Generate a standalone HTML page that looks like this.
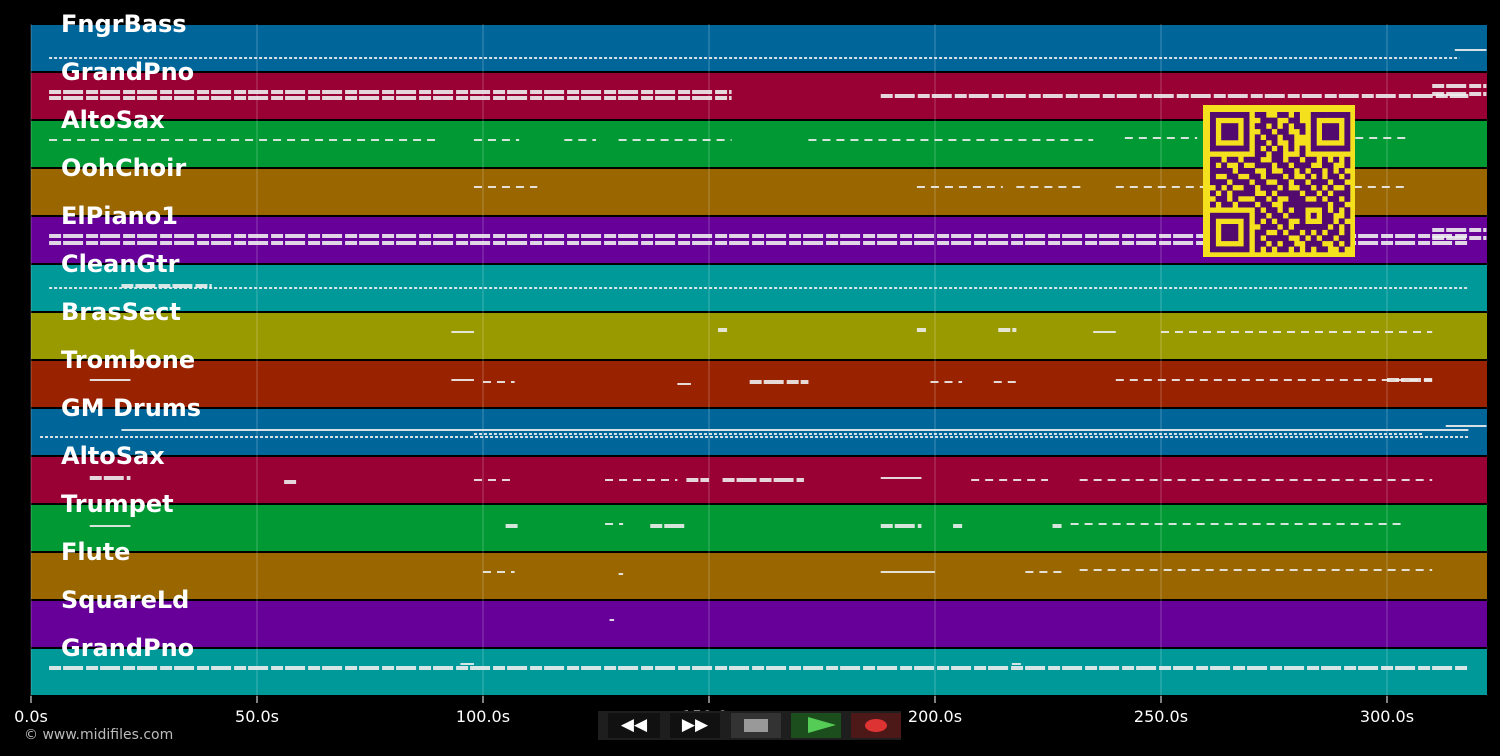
<!DOCTYPE html>
<html><head><meta charset="utf-8"><style>
html,body{margin:0;padding:0;background:#000;width:1500px;height:756px;overflow:hidden}
svg{display:block}
text{font-family:"DejaVu Sans","Liberation Sans",sans-serif}
</style></head><body>
<svg id="c" width="1500" height="756"></svg>
<script>
const instruments=["FngrBass","GrandPno","AltoSax","OohChoir","ElPiano1","CleanGtr","BrasSect","Trombone","GM Drums","AltoSax","Trumpet","Flute","SquareLd","GrandPno"];
const laneColors=["#00669a","#990033","#009933","#996600","#660099","#009999","#999900","#992200","#00669a","#990033","#009933","#996600","#660099","#009999"];
const timeTicks=[0,50,100,150,200,250,300];
// note groups per lane: [startSec,endSec,yOffsetInLane,style]
const noteGroups=[
 [[4,316,34,"dot"],[315,322,26,"solid"]],
 [[4,155,20,"thick"],[4,155,26,"thick"],[188,318,24,"thick"],[310,322,14,"thick"],[310,322,22,"thick"]],
 [[4,90,20,"dash"],[98,108,20,"dash"],[118,125,20,"dash"],[130,155,20,"dash"],[172,235,20,"dash"],[242,258,18,"dash"],[262,305,18,"dash"]],
 [[98,112,19,"dash"],[196,215,19,"dash"],[218,233,19,"dash"],[240,305,19,"dash"]],
 [[4,318,20,"thick"],[4,318,27,"thick"],[310,322,14,"thick"],[310,322,22,"thick"]],
 [[4,318,24,"dot"],[20,40,22,"thick"]],
 [[93,98,20,"solid"],[152,154,18,"thick"],[196,198,18,"thick"],[214,218,18,"thick"],[235,240,20,"solid"],[250,310,20,"dash"]],
 [[13,22,20,"solid"],[93,98,20,"solid"],[100,107,22,"dash"],[143,146,24,"solid"],[159,172,22,"thick"],[199,206,22,"dash"],[213,218,22,"dash"],[240,310,20,"dash"],[300,310,20,"thick"]],
 [[2,318,29,"dot"],[20,318,22,"solid"],[98,308,26,"dot"],[313,322,18,"solid"]],
 [[13,22,22,"thick"],[56,59,26,"thick"],[98,107,24,"dash"],[127,143,24,"dash"],[145,150,24,"thick"],[153,171,24,"thick"],[188,197,22,"solid"],[208,225,24,"dash"],[232,310,24,"dash"]],
 [[13,22,22,"solid"],[105,108,22,"thick"],[127,131,20,"dash"],[137,145,22,"thick"],[188,197,22,"thick"],[204,206,22,"thick"],[226,228,22,"thick"],[230,304,20,"dash"]],
 [[100,107,20,"dash"],[130,131,22,"solid"],[188,200,20,"solid"],[220,228,20,"dash"],[232,310,18,"dash"]],
 [[128,129,20,"solid"]],
 [[4,318,20,"thick"],[95,98,16,"solid"],[217,219,16,"solid"]]
];
const NS="http://www.w3.org/2000/svg";
const svg=document.getElementById('c');
const X0=31,X1=1487,T0=0,PX=4.52,LT=24,LH=48;
const xOf=t=>X0+(t-T0)*PX;
const yLane=i=>LT+i*LH;
function mk(tag,attrs){const e=document.createElementNS(NS,tag);for(const k in attrs)e.setAttribute(k,attrs[k]);svg.appendChild(e);return e;}
instruments.forEach((n,i)=>{
 const r=mk('rect',{x:X0,y:yLane(i)+1,width:X1-X0,height:LH-2,fill:laneColors[i]});
 
 
});
timeTicks.forEach(t=>{
 const l=mk('line',{x1:xOf(t),x2:xOf(t),y1:LT,y2:LT+14*LH,stroke:"rgba(255,255,255,0.25)","stroke-width":1});
 
 
 const tk=mk('line',{x1:xOf(t),x2:xOf(t),y1:LT+14*LH,y2:LT+14*LH+7,stroke:"#fff","stroke-width":1});
 
 
 const tx=mk('text',{x:xOf(t),y:722,fill:"#fff","font-size":16,"text-anchor":"middle"});
 tx.textContent=t.toFixed(1)+"s";
 
 
});
const styles={dot:{w:2,d:"3 2"},dash:{w:2,d:"8 6"},solid:{w:2,d:"none"},thick:{w:4,d:"12 2 20 3"}};
noteGroups.forEach((g,i)=>g.forEach(n=>{
 const s=styles[n[3]];
 const l=mk('line',{x1:xOf(n[0]),x2:xOf(n[1]),y1:yLane(i)+n[2],y2:yLane(i)+n[2],stroke:"#eee","stroke-width":s.w,"stroke-dasharray":s.d,opacity:0.9});
 
 
}));
instruments.forEach((n,i)=>{
 const t=mk('text',{x:61,y:yLane(i)+8,fill:"#fff","font-size":24,"font-weight":"bold"});
 t.textContent=n;
 
 
});
// QR code
const qrRows=[
"1111111011001101001111111","1000001001110011001000001","1011101011010101101011101","1011101001101100101011101","1011101010110110001011101","1000001011010010001000001","1111111010101010101111111","0000000011011000100000000","1101101110011011011010101","1010010011101101110011001","1111011100100110101101010","1001100110111010010101101","1110111011001101101110110","0101001101110100110101001","1010111100101111011010111","0110100011010011100101101","1011011101100111111110110","0000000010110101100010101","1111111011011011101011001","1000001010101100100011010","1011101001110101111110101","1011101011001011010101101","1011101010111100101011011","1000001011010110011100101","1111111010101101010110010"];
const qb=mk('rect',{x:1203,y:105,width:152,height:152,fill:"#f5e01e"});


const ms=5.6;
qrRows.forEach((row,r)=>[...row].forEach((b,c)=>{if(b==='1')mk('rect',{x:1210+c*ms,y:112+r*ms,width:ms+0.3,height:ms+0.3,fill:"#520a6e"});}));
</script>
<div style="position:absolute;left:24px;top:727px;color:#bbb;font:14px 'DejaVu Sans','Liberation Sans',sans-serif">© www.midifiles.com</div>
<div style="position:absolute;left:598px;top:711px;width:303px;height:29px;background:#1e1e1e"></div>
<div style="position:absolute;left:608px;top:713px;width:52px;height:25px;background:#111;color:#fff;font:bold 17px 'DejaVu Sans',sans-serif;text-align:center;line-height:25px">◀◀</div>
<div style="position:absolute;left:670px;top:713px;width:50px;height:25px;background:#111;color:#fff;font:bold 17px 'DejaVu Sans',sans-serif;text-align:center;line-height:25px">▶▶</div>
<div style="position:absolute;left:731px;top:713px;width:50px;height:25px;background:#333"><div style="position:absolute;left:13px;top:6px;width:24px;height:13px;background:#999"></div></div>
<div style="position:absolute;left:791px;top:713px;width:50px;height:25px;background:#1c4d1c"><div style="position:absolute;left:17px;top:4px;width:0;height:0;border-top:8px solid transparent;border-bottom:8px solid transparent;border-left:28px solid #5c5"></div></div>
<div style="position:absolute;left:851px;top:713px;width:50px;height:25px;background:#4d1818"><div style="position:absolute;left:14px;top:6px;width:22px;height:13px;border-radius:50%;background:#d33"></div></div>
</body></html>
